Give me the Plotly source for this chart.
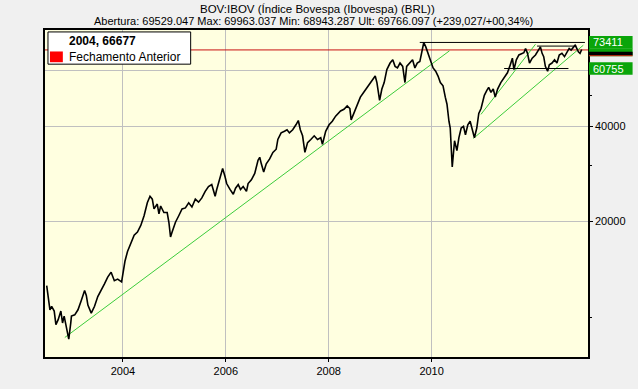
import math
import plotly.graph_objects as go

# ---------------- data ----------------
years = [
    2002.518, 2002.549, 2002.581, 2002.614, 2002.664, 2002.697, 2002.741, 2002.793, 2002.826, 2002.857,
    2002.903, 2002.947, 2002.986, 2002.999, 2003.063, 2003.126, 2003.192, 2003.255, 2003.288, 2003.319,
    2003.384, 2003.448, 2003.511, 2003.577, 2003.641, 2003.704, 2003.770, 2003.833, 2003.897, 2003.974,
    2003.993, 2004.039, 2004.089, 2004.141, 2004.186, 2004.218, 2004.282, 2004.347, 2004.411, 2004.474,
    2004.526, 2004.571, 2004.604, 2004.667, 2004.700, 2004.733, 2004.796, 2004.860, 2004.893, 2004.925,
    2004.956, 2005.021, 2005.085, 2005.149, 2005.214, 2005.278, 2005.341, 2005.407, 2005.470, 2005.534,
    2005.599, 2005.663, 2005.726, 2005.792, 2005.823, 2005.856, 2005.908, 2005.938, 2005.985, 2006.016,
    2006.081, 2006.145, 2006.189, 2006.241, 2006.285, 2006.337, 2006.401, 2006.433, 2006.497, 2006.562,
    2006.626, 2006.659, 2006.690, 2006.736, 2006.786, 2006.852, 2006.915, 2006.979, 2007.011, 2007.075,
    2007.140, 2007.190, 2007.236, 2007.300, 2007.363, 2007.409, 2007.448, 2007.492, 2007.537, 2007.589,
    2007.652, 2007.718, 2007.782, 2007.845, 2007.878, 2007.941, 2008.007, 2008.070, 2008.134, 2008.167,
    2008.230, 2008.296, 2008.359, 2008.411, 2008.436, 2008.488, 2008.552, 2008.615, 2008.681, 2008.745,
    2008.808, 2008.873, 2008.904, 2008.937, 2008.989, 2009.033, 2009.078, 2009.130, 2009.193, 2009.245,
    2009.290, 2009.336, 2009.386, 2009.438, 2009.482, 2009.515, 2009.567, 2009.630, 2009.675, 2009.721,
    2009.771, 2009.817, 2009.848, 2009.887, 2009.933, 2009.977, 2010.029, 2010.079, 2010.125, 2010.170,
    2010.222, 2010.266, 2010.299, 2010.337, 2010.362, 2010.401, 2010.430, 2010.446, 2010.492, 2010.530,
    2010.575, 2010.620, 2010.658, 2010.704, 2010.749, 2010.788, 2010.832, 2010.878, 2010.917, 2010.961,
    2011.025, 2011.071, 2011.109, 2011.154, 2011.198, 2011.237, 2011.283, 2011.345, 2011.409, 2011.474,
    2011.519, 2011.570, 2011.601, 2011.647, 2011.697, 2011.749, 2011.793, 2011.826, 2011.864, 2011.903,
    2011.955, 2012.019, 2012.071, 2012.115, 2012.148, 2012.179, 2012.211, 2012.255, 2012.288, 2012.340,
    2012.390, 2012.436, 2012.481, 2012.533, 2012.583, 2012.629, 2012.674, 2012.712, 2012.756, 2012.789,
    2012.822, 2012.853, 2012.885, 2012.918,
]
closes = [
    12560, 11300, 10540, 10810, 10440, 9460, 9810, 10440, 9580, 10070,
    9140, 8520, 9580, 10070, 10160, 10540, 11300, 12120, 11700, 10910,
    10290, 10810, 11600, 12120, 12720, 13360, 13850, 13020, 13170, 12900,
    13650, 14990, 16100, 16870, 17480, 18110, 18540, 19440, 20860, 22920,
    24040, 23530, 21920, 22710, 21160, 22390, 21350, 21350, 19900, 17890,
    18540, 19900, 20860, 21920, 22080, 22920, 22230, 23530, 23030, 23750,
    24900, 25800, 26170, 24040, 25250, 26360, 28370, 29380, 27690, 26360,
    25250, 24380, 25490, 26170, 25250, 25800, 24900, 26360, 27080, 28370,
    31220, 31890, 30410, 28680, 30410, 31510, 33040, 33820, 36300, 38070,
    38520, 38950, 38070, 38950, 40370, 41650, 38950, 37270, 33040, 35470,
    36300, 37270, 36300, 36740, 35060, 38520, 40370, 41430, 42990, 43540,
    44630, 45190, 46330, 45430, 41830, 43850, 46880, 49350, 51110, 52970,
    54870, 56860, 57520, 54870, 48210, 52340, 54870, 60280, 63220, 64710,
    61700, 61010, 63220, 61700, 54870, 61700, 63220, 64710, 61010, 63220,
    63900, 70290, 73400, 71080, 67830, 64710, 61010, 59570, 57520, 54870,
    53590, 49350, 46880, 41430, 39440, 29720, 34230, 35950, 33480, 36740,
    39440, 39920, 37550, 40370, 41430, 38950, 36740, 39440, 43850, 45430,
    50000, 51760, 52970, 51110, 52340, 49350, 52340, 54870, 56860, 58890,
    61700, 65480, 60280, 64710, 67040, 67510, 68130, 70290, 67830, 63220,
    65480, 67040, 69440, 71080, 67830, 66220, 61700, 59570, 62460, 63220,
    64710, 63220, 67040, 67830, 66220, 68610, 70290, 69440, 71080, 71950,
    70290, 68610, 67830, 69766,
]

# trend lines (green)
trend1_x = [2002.870, 2010.349]
trend1_y = [8620, 69110]
trend2_x = [2010.959, 2012.019]
trend2_y = [43540, 72450]
trend3_x = [2010.811, 2012.949]
trend3_y = [36550, 71950]

# horizontal levels (black)
max_level = 73411
max_x = [2009.77, 2012.98]
mid_level = 71500
mid_x = [2012.05, 2012.82]
support_level = 60755
support_x = [2011.41, 2012.66]

prev_close = 69529  # Fechamento Anterior

x_ticks = [2004, 2006, 2008, 2010]
x_tick_labels = ["2004", "2006", "2008", "2010"]
y_ticks = [20000, 40000, 60000]
y_tick_labels = ["20000", "40000", ""]
y_minor = [10000, 30000, 50000]

title_line1 = "BOV:IBOV (Índice Bovespa (Ibovespa) (BRL))"
title_line2 = "Abertura: 69529.047 Max: 69963.037 Min: 68943.287 Ult: 69766.097 (+239,027/+00,34%)"
legend_head = "2004, 66677"
legend_item = "Fechamento Anterior"

# ---------------- layout helpers ----------------
W, H = 638, 389
L, R, T, B = 45, 593, 30, 365
XMIN, XMAX = 2002.485, 2013.04
YMIN, YMAX = 3.874, 4.905
FONT = "Liberation Sans, Arial, sans-serif"


def fx(px):
    return (px - L) / (R - L)


def fy(py):
    return (B - py) / (B - T)


def fv(v):
    return (math.log10(v) - YMIN) / (YMAX - YMIN)


GREEN_LINE = "#3ccc3c"
LABEL_GREEN = "#0aa50a"

fig = go.Figure()

fig.add_trace(go.Scatter(x=[XMIN, XMAX], y=[prev_close, prev_close], mode="lines",
                         line=dict(color="#c81010", width=1), hoverinfo="skip"))
for tx, ty in [(trend1_x, trend1_y), (trend2_x, trend2_y), (trend3_x, trend3_y)]:
    fig.add_trace(go.Scatter(x=tx, y=ty, mode="lines",
                             line=dict(color=GREEN_LINE, width=1), hoverinfo="skip"))
for hx, lv in [(max_x, max_level), (mid_x, mid_level), (support_x, support_level)]:
    fig.add_trace(go.Scatter(x=hx, y=[lv, lv], mode="lines",
                             line=dict(color="black", width=1), hoverinfo="skip"))
fig.add_trace(go.Scatter(x=years, y=closes, mode="lines",
                         line=dict(color="black", width=1.6), name="IBOV"))

shapes = []
annotations = []

# legend box
shapes.append(dict(type="rect", xref="paper", yref="paper",
                   x0=fx(48), x1=fx(192), y0=fy(65), y1=fy(32),
                   fillcolor="white", line=dict(color="black", width=1), layer="above"))
shapes.append(dict(type="rect", xref="paper", yref="paper",
                   x0=fx(50), x1=fx(63), y0=fy(63), y1=fy(52),
                   fillcolor="#ff0000", line=dict(width=0), layer="above"))
annotations.append(dict(xref="paper", yref="paper", x=fx(67), y=fy(41.5),
                        xanchor="left", yanchor="middle", showarrow=False,
                        text="<b>" + legend_head + "</b>",
                        font=dict(family=FONT, size=12, color="black")))
annotations.append(dict(xref="paper", yref="paper", x=fx(67), y=fy(57.5),
                        xanchor="left", yanchor="middle", showarrow=False,
                        text=legend_item, font=dict(family=FONT, size=12, color="black")))

# titles
annotations.append(dict(xref="paper", yref="paper", x=fx(320), y=fy(8),
                        xanchor="center", yanchor="middle", showarrow=False,
                        text=title_line1, font=dict(family=FONT, size=11.5, color="black")))
annotations.append(dict(xref="paper", yref="paper", x=fx(316), y=fy(21),
                        xanchor="center", yanchor="middle", showarrow=False,
                        text=title_line2, font=dict(family=FONT, size=11, color="black")))

# right-side value labels
# partially hidden label (behind)
shapes.append(dict(type="rect", xref="paper", yref="paper",
                   x0=fx(594), x1=fx(638), y0=fy(57), y1=fy(49),
                   fillcolor=LABEL_GREEN, line=dict(width=0), layer="above"))
shapes.append(dict(type="rect", xref="paper", yref="paper",
                   x0=fx(594), x1=fx(638), y0=fy(55.5), y1=fy(52.3),
                   fillcolor="black", line=dict(width=0), layer="above"))
shapes.append(dict(type="line", xref="paper", yref="paper",
                   x0=fx(594), x1=fx(638), y0=fy(56.3), y1=fy(56.3),
                   line=dict(color="#c81010", width=1), layer="above"))
for lv in [max_level, support_level]:
    yc = fv(lv)
    half = 6.5 / (B - T)
    shapes.append(dict(type="rect", xref="paper", yref="paper",
                       x0=fx(594), x1=fx(638), y0=yc - half, y1=yc + half,
                       fillcolor=LABEL_GREEN, line=dict(width=0), layer="above"))
    annotations.append(dict(xref="paper", yref="paper", x=fx(596), y=yc,
                            xanchor="left", yanchor="middle", showarrow=False,
                            text=str(lv), font=dict(family=FONT, size=11, color="white")))

fig.update_layout(
    width=W, height=H,
    margin=dict(l=L, r=W - R, t=T, b=H - B, pad=0),
    paper_bgcolor="#f0f0f0",
    plot_bgcolor="#ffffe0",
    showlegend=False,
    shapes=shapes,
    annotations=annotations,
    font=dict(family=FONT, size=11, color="black"),
    xaxis=dict(
        range=[XMIN, XMAX], tickvals=x_ticks, ticktext=x_tick_labels,
        ticks="outside", ticklen=3, tickcolor="black", tickwidth=1,
        showgrid=True, gridcolor="#c0c0c0", gridwidth=1,
        showline=True, linecolor="black", linewidth=1.5, mirror=True,
        zeroline=False, tickfont=dict(family=FONT, size=11, color="black"),
    ),
    yaxis=dict(
        type="log", range=[YMIN, YMAX], side="right",
        tickvals=y_ticks, ticktext=y_tick_labels,
        ticks="outside", ticklen=3, tickcolor="black", tickwidth=1,
        minor=dict(tickvals=y_minor, ticks="outside", ticklen=2, tickcolor="black", showgrid=False),
        showgrid=True, gridcolor="#c0c0c0", gridwidth=1,
        showline=True, linecolor="black", linewidth=1.5, mirror=True,
        zeroline=False, tickfont=dict(family=FONT, size=11, color="black"),
    ),
)

fig.write_html(
    "out.html",
    config={"displayModeBar": False},
    post_script="document.body.style.margin='0';document.body.style.background='#f0f0f0';",
)
